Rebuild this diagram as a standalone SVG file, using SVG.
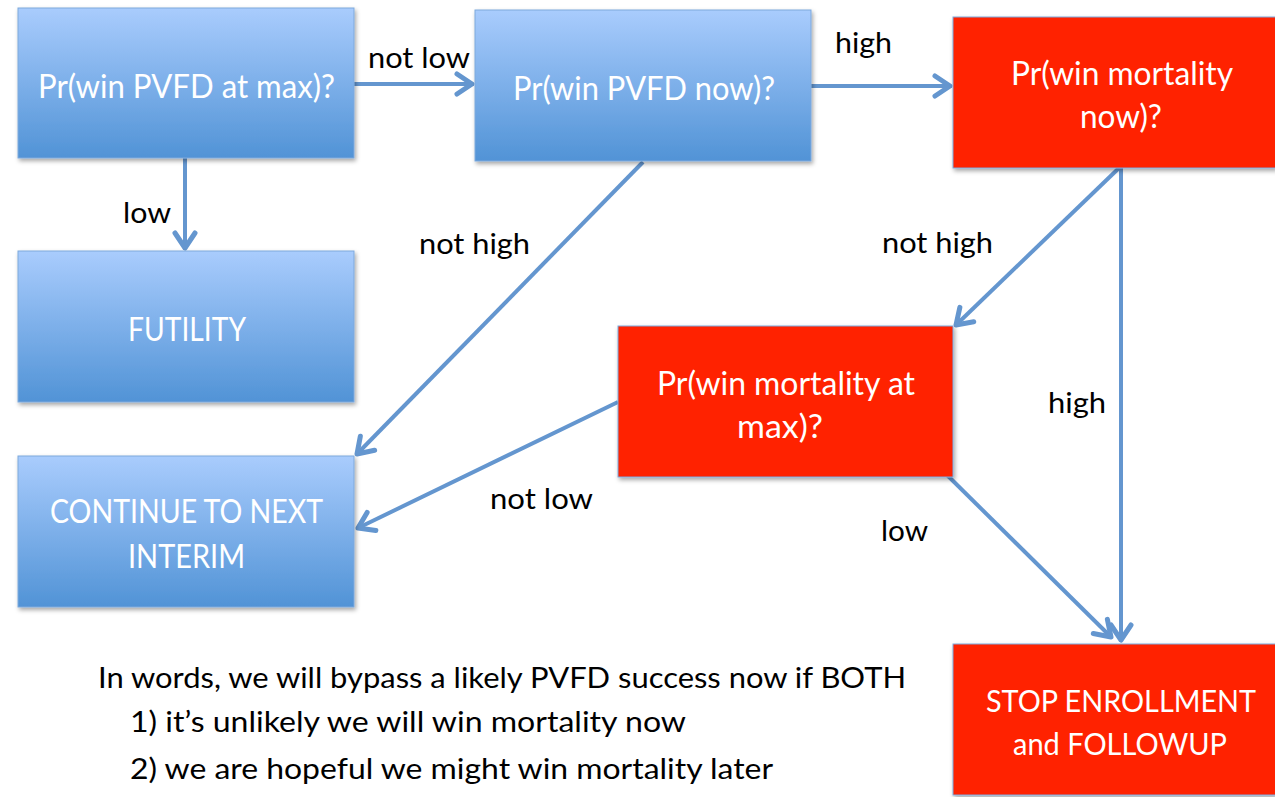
<svg xmlns="http://www.w3.org/2000/svg" width="1275" height="797" viewBox="0 0 1275 797">
  <defs>
    <linearGradient id="blueGrad" x1="0" y1="0" x2="0" y2="1">
      <stop offset="0" stop-color="#A9CCFD"/>
      <stop offset="1" stop-color="#5193D6"/>
    </linearGradient>
    <filter id="shadow" x="-10%" y="-10%" width="120%" height="130%">
      <feDropShadow dx="1.5" dy="2.5" stdDeviation="2" flood-color="#000" flood-opacity="0.35"/>
    </filter>
    <marker id="arrow" markerUnits="userSpaceOnUse" markerWidth="30" markerHeight="30" viewBox="-16 -12 20 24" refX="0" refY="0" orient="auto">
      <path d="M-12,-8 L0,0 L-12,8" fill="none" stroke="#6496CF" stroke-width="4" stroke-linecap="round" stroke-linejoin="round"/>
    </marker>
    <style>
      .blue { fill: url(#blueGrad); stroke: #7EA9DC; stroke-width: 1; filter: url(#shadow); }
      .red { fill: #FF2300; stroke: #7EA9DC; stroke-width: 1; filter: url(#shadow); }
      .nodetext { font-family: Lato, "Open Sans", sans-serif; font-size: 32px; fill: #FFFFFF; }
      .stoptext { font-size: 30px; }
      .label { font-family: Lato, "Open Sans", sans-serif; font-size: 28px; fill: #000000; }
      .words { font-family: Lato, "Open Sans", sans-serif; font-size: 29px; fill: #000000; }
      .conn { fill: none; stroke: #6496CF; stroke-width: 4; marker-end: url(#arrow); }
    </style>
  </defs>
  <rect width="1275" height="797" fill="#FFFFFF"/>

  <g id="connectors">
    <path class="conn" d="M354,84 L472,84"/>
    <path class="conn" d="M811,86 L950,86"/>
    <path class="conn" d="M185,158 L185,248"/>
    <path class="conn" d="M643,162 L357,454"/>
    <path class="conn" d="M1119,168 L956,325"/>
    <path class="conn" d="M1121,168 L1121,640"/>
    <path class="conn" d="M618,402 L358,528"/>
    <path class="conn" d="M945,473 L1111,637"/>
  </g>

  <g id="node-pvfd-max">
    <rect class="blue" x="18" y="8" width="336" height="150"/>
    <text class="nodetext" x="38" y="98" textLength="297" lengthAdjust="spacingAndGlyphs">Pr(win PVFD at max)?</text>
  </g>
  <g id="node-pvfd-now">
    <rect class="blue" x="475" y="10" width="336" height="151"/>
    <text class="nodetext" x="513" y="100" textLength="262" lengthAdjust="spacingAndGlyphs">Pr(win PVFD now)?</text>
  </g>
  <g id="node-mortality-now">
    <rect class="red" x="953" y="17" width="323" height="151"/>
    <text class="nodetext" x="1011" y="85" textLength="222" lengthAdjust="spacingAndGlyphs">Pr(win mortality</text>
    <text class="nodetext" x="1080" y="128" textLength="82" lengthAdjust="spacingAndGlyphs">now)?</text>
  </g>
  <g id="node-futility">
    <rect class="blue" x="18" y="251" width="336" height="151"/>
    <text class="nodetext" x="128" y="341" textLength="118" lengthAdjust="spacingAndGlyphs">FUTILITY</text>
  </g>
  <g id="node-continue">
    <rect class="blue" x="18" y="456" width="336" height="151"/>
    <text class="nodetext" x="50" y="523" textLength="273" lengthAdjust="spacingAndGlyphs">CONTINUE TO NEXT</text>
    <text class="nodetext" x="128" y="568" textLength="117" lengthAdjust="spacingAndGlyphs">INTERIM</text>
  </g>
  <g id="node-mortality-max">
    <rect class="red" x="618" y="326" width="335" height="151"/>
    <text class="nodetext" x="657" y="395" textLength="258" lengthAdjust="spacingAndGlyphs">Pr(win mortality at</text>
    <text class="nodetext" x="737" y="438" textLength="86" lengthAdjust="spacingAndGlyphs">max)?</text>
  </g>
  <g id="node-stop">
    <rect class="red" x="953" y="644" width="323" height="151"/>
    <text class="nodetext stoptext" x="986" y="712" textLength="270" lengthAdjust="spacingAndGlyphs">STOP ENROLLMENT</text>
    <text class="nodetext stoptext" x="1013" y="755" textLength="214" lengthAdjust="spacingAndGlyphs">and FOLLOWUP</text>
  </g>

  <g id="edge-labels">
    <text class="label" x="368" y="68" textLength="102" lengthAdjust="spacingAndGlyphs">not low</text>
    <text class="label" x="835" y="53" textLength="57" lengthAdjust="spacingAndGlyphs">high</text>
    <text class="label" x="123" y="223" textLength="48" lengthAdjust="spacingAndGlyphs">low</text>
    <text class="label" x="419" y="254" textLength="111" lengthAdjust="spacingAndGlyphs">not high</text>
    <text class="label" x="882" y="253" textLength="111" lengthAdjust="spacingAndGlyphs">not high</text>
    <text class="label" x="1048" y="413" textLength="58" lengthAdjust="spacingAndGlyphs">high</text>
    <text class="label" x="490" y="509" textLength="103" lengthAdjust="spacingAndGlyphs">not low</text>
    <text class="label" x="881" y="541" textLength="47" lengthAdjust="spacingAndGlyphs">low</text>
  </g>

  <g id="explanation">
    <text class="words" x="98" y="688" textLength="808" lengthAdjust="spacingAndGlyphs">In words, we will bypass a likely PVFD success now if BOTH</text>
    <text class="words" x="130" y="732" textLength="556" lengthAdjust="spacingAndGlyphs">1) it’s unlikely we will win mortality now</text>
    <text class="words" x="130" y="779" textLength="643" lengthAdjust="spacingAndGlyphs">2) we are hopeful we might win mortality later</text>
  </g>
</svg>
